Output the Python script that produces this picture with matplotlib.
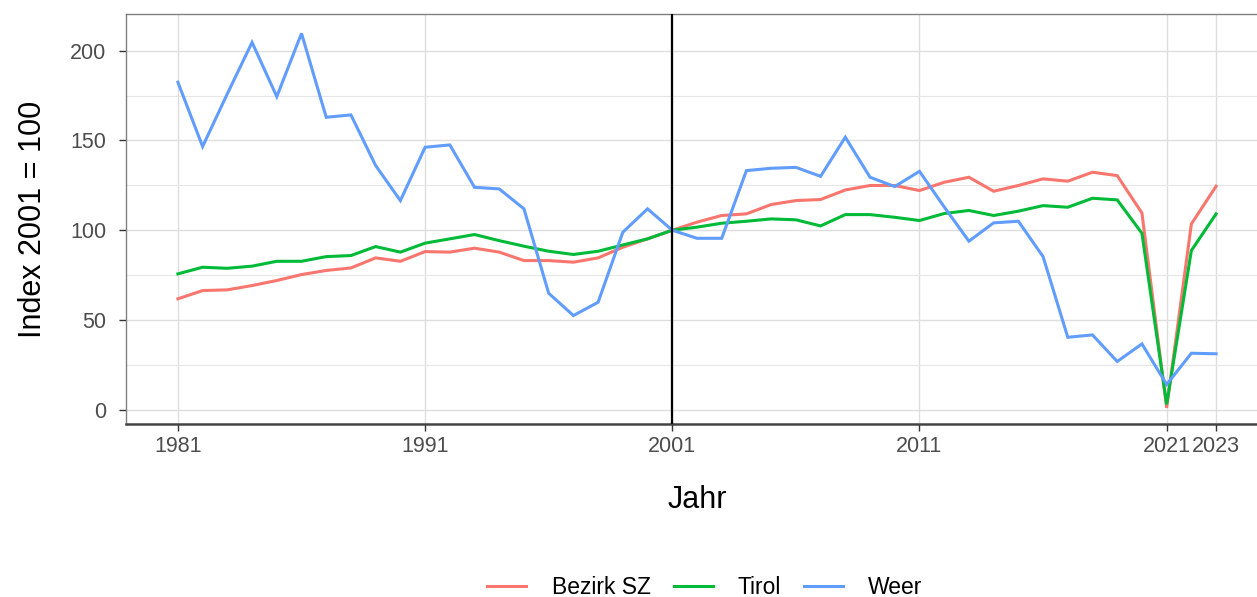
import numpy as np
import matplotlib.pyplot as plt
from matplotlib.lines import Line2D

plt.rcParams['font.family'] = ['Liberation Sans', 'DejaVu Sans']

years = list(range(1981, 2024))

bezirk_sz = [61.8, 66.4, 66.8, 69.2, 72.0, 75.3, 77.6, 79.0, 84.6, 82.7,
             88.1, 87.8, 90.0, 87.8, 83.1, 83.1, 82.2, 84.6, 90.5, 95.2,
             100.0, 104.5, 108.2, 109.1, 114.3, 116.5, 117.1, 122.4, 124.9, 124.9,
             122.1, 126.7, 129.5, 121.7, 124.9, 128.6, 127.3, 132.3, 130.4, 109.6,
             1.1, 103.5, 124.5]
tirol = [75.7, 79.4, 78.8, 80.0, 82.7, 82.7, 85.3, 85.9, 90.9, 87.8,
         92.8, 95.2, 97.6, 94.2, 91.1, 88.3, 86.5, 88.3, 91.8, 95.2,
         100.0, 101.7, 103.9, 105.0, 106.3, 105.8, 102.4, 108.7, 108.7, 107.2,
         105.4, 109.3, 111.0, 108.2, 110.6, 113.7, 112.8, 117.8, 116.9, 98.3,
         3.0, 88.7, 109.1]
weer = [182.4, 146.6, 176.0, 204.6, 174.4, 209.6, 162.9, 164.2, 136.0, 116.5,
        146.2, 147.5, 123.9, 123.0, 111.9, 64.9, 52.5, 59.9, 98.9, 111.9,
        100.0, 95.5, 95.5, 133.2, 134.5, 135.0, 130.0, 151.8, 129.5, 124.3,
        132.8, 113.0, 93.9, 104.1, 105.0, 85.3, 40.4, 41.7, 26.9, 36.7,
        14.1, 31.5, 31.2]

series_names = ["Bezirk SZ", "Tirol", "Weer"]
series_colors = ["#F8766D", "#00BA38", "#619CFF"]
x_breaks = [1981, 1991, 2001, 2011, 2021, 2023]
y_breaks = [0, 50, 100, 150, 200]
y_minor = [25, 75, 125, 175]

W, H = 1257, 597
fig = plt.figure(figsize=(W / 100, H / 100), dpi=100)
# axes runs a little past the right edge of the figure, as in the reference
ax = fig.add_axes([126 / W, 1 - 424 / H, (1268 - 126) / W, (424 - 14) / H])

for vals, name, col in zip([bezirk_sz, tirol, weer], series_names, series_colors):
    ax.plot(years, vals, color=col, lw=2.2, label=name, solid_joinstyle='miter', zorder=3)

ax.axvline(2001, color='black', lw=1.6, zorder=4)

ax.set_xlim(1981 - 2.1, 2023 + 2.1)
ax.set_ylim(-7.9, 220.4)

ax.set_xticks(x_breaks)
ax.set_yticks(y_breaks)
ax.set_yticks(y_minor, minor=True)
ax.grid(True, which='major', color='#dedede', lw=1.0, zorder=0)
ax.grid(True, which='minor', axis='y', color='#e6e6e6', lw=0.8, zorder=0)
ax.set_axisbelow(True)

ax.tick_params(axis='both', which='major', length=5, width=1, color='#333333',
               labelsize=15.5, labelcolor='#4d4d4d')
ax.tick_params(axis='x', which='major', pad=4)
ax.tick_params(axis='y', which='major', pad=9)
ax.tick_params(axis='y', which='minor', length=0)

for side in ['top', 'left', 'right']:
    ax.spines[side].set_color('#808080')
    ax.spines[side].set_linewidth(1.0)
ax.spines['bottom'].set_color('#444444')
ax.spines['bottom'].set_linewidth(1.8)

ax.set_xlabel("Jahr", fontsize=22, labelpad=20)
ax.set_ylabel("Index 2001 = 100", fontsize=22, labelpad=16)

handles = [Line2D([], [], color=c, lw=2.2) for c in series_colors]
fig.legend(handles, series_names, loc='center', bbox_to_anchor=(705 / W, 1 - 588 / H),
           ncol=3, frameon=False, fontsize=16.5, handlelength=1.7, columnspacing=1.0,
           handletextpad=1.1)

fig.savefig("out.png", dpi=100)
